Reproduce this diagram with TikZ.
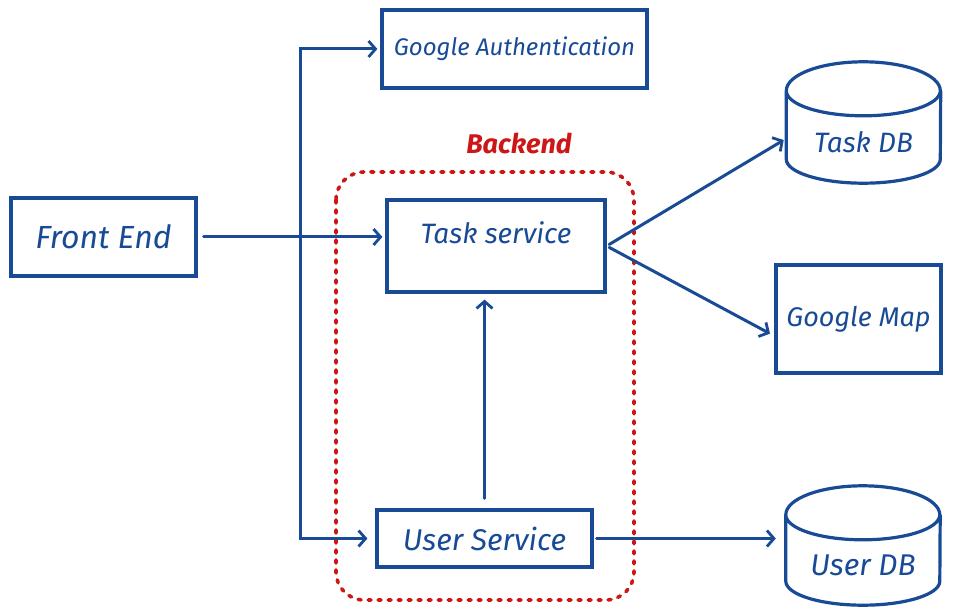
\documentclass[tikz,border=0pt]{standalone}
\usepackage{fontspec}
\setmainfont{Fira Sans}
\usetikzlibrary{arrows.meta}
\definecolor{penblue}{RGB}{24,74,150}
\definecolor{penred}{RGB}{205,22,22}
\tikzset{
    box/.style={draw=penblue, line width=3.2pt, text=penblue, inner sep=0pt,
        font=\itshape\fontsize{28}{30}\selectfont},
    db/.style={text=penblue, inner sep=0pt, font=\itshape\fontsize{28}{30}\selectfont,
        minimum width=154pt, minimum height=121pt, text height=60pt, text depth=0pt},
    dbline/.style={penblue, line width=3.2pt, line join=round},
    link/.style={penblue, line width=3pt, line cap=round,
        -{Straight Barb[length=7pt, width=16pt, line width=2.8pt]}},
    region/.style={penred, line width=3.6pt, line cap=round, dash pattern=on 3pt off 7pt}
}

\begin{document}
\begin{tikzpicture}[x=1pt, y=-1pt]
    \useasboundingbox (0,0) rectangle (979,609);

    \node[box, minimum width=265pt, minimum height=78pt, font=\itshape\fontsize{24}{26}\selectfont] (auth) at (514.5,49) {Google Authentication};
    \node[box, minimum width=185pt, minimum height=78pt, font=\itshape\fontsize{32}{34}\selectfont] (front) at (103.5,237) {Front End};
    \node[box, minimum width=218pt, minimum height=92pt, text depth=26pt] (task) at (496,246) {Task service};
    \node[box, minimum width=215pt, minimum height=57pt, font=\itshape\fontsize{30}{32}\selectfont] (user) at (484.5,538.5) {User Service};
    \node[box, minimum width=165pt, minimum height=108pt, font=\itshape\fontsize{27}{29}\selectfont] (map) at (858.5,319) {Google Map};
    \node[db] (taskdb) at (863.5,122.5) {Task DB};
    \node[db, font=\itshape\fontsize{30}{32}\selectfont, minimum height=119pt] (userdb) at (863,545.5) {User DB};

    \foreach \n in {taskdb, userdb} {
        \draw[dbline] ([yshift=-29pt]\n.north west)
            arc[start angle=180, end angle=0, x radius=77pt, y radius=29pt]
            arc[start angle=0, end angle=-180, x radius=77pt, y radius=25pt]
            -- ([yshift=24pt]\n.south west)
            arc[start angle=180, end angle=360, x radius=77pt, y radius=24pt]
            -- ([yshift=-29pt]\n.north east);
    }

    \node[text=penred, font=\itshape\bfseries\fontsize{27}{29}\selectfont] (backend) at (519,143) {Backend};
    \draw[region, rounded corners=28pt] (336,172) rectangle (634,600);

    \coordinate (split) at (300,242);

    \draw[link, shorten <=6pt, shorten >=3pt] (front.east) -- (front.east -| task.west);
    \draw[link, shorten >=3pt] (split) |- (auth.west);
    \draw[link, shorten >=8pt] (split) |- (user.west);
    \draw[link, shorten <=10pt, shorten >=6pt] (user.north) -- (user.north |- task.south);
    \draw[link, shorten <=3pt, shorten >=3pt] (task.east) -- ([yshift=-16pt]taskdb.west);
    \draw[link, shorten <=3pt, shorten >=5pt] (task.east) -- ([yshift=-17pt]map.west);
    \draw[link, shorten <=3pt, shorten >=10pt] (user.east) -- (user.east -| userdb.west);
\end{tikzpicture}
\end{document}
